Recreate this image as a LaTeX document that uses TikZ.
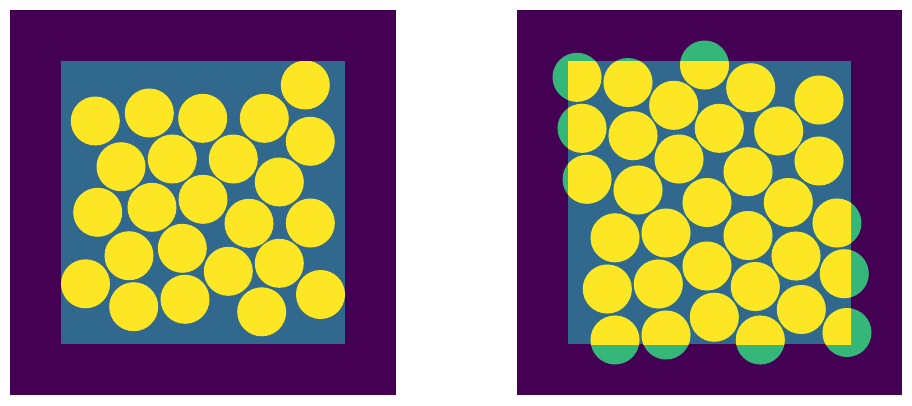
\documentclass[tikz,border=0pt]{standalone}
\definecolor{bgpurple}{HTML}{440154}
\definecolor{boxteal}{HTML}{31688E}
\definecolor{diskgreen}{HTML}{35B779}
\definecolor{diskyellow}{HTML}{FDE725}
\begin{document}
\begin{tikzpicture}[x=1pt, y=-1pt,
  panel/.style={fill=bgpurple},
  box/.style={fill=boxteal},
  inside/.style={fill=diskyellow},
  outside/.style={fill=diskgreen}]
  \useasboundingbox (0,0) rectangle (912,405);

  % left panel: disks kept inside the box
  \coordinate (L1) at (10,10);
  \coordinate (L2) at (396,395);
  \coordinate (LB1) at (61,61);
  \coordinate (LB2) at (345,344);
  \fill[panel] (L1) rectangle (L2);
  \fill[box] (LB1) rectangle (LB2);
  \begin{scope}
    \clip (LB1) rectangle (LB2);
    \foreach \cx/\cy in {305.3/85.0, 95.3/121.0, 149.3/113.0, 202.7/118.3,
        264.3/118.3, 310.3/141.3, 121.0/166.7, 172.3/159.0, 233.3/159.0,
        279.3/182.0, 97.7/212.3, 152.0/207.3, 203.0/199.3, 249.0/223.3,
        310.3/223.0, 129.0/255.7, 182.3/248.3, 228.3/271.3, 279.3/263.3,
        85.5/283.8, 133.7/306.7, 185.0/299.3, 261.7/311.8, 320.5/294.5}
      \fill[inside] (\cx,\cy) circle (24.5pt);
  \end{scope}

  % right panel: disks may cross the box edge
  \coordinate (R1) at (517,10);
  \coordinate (R2) at (902,395);
  \coordinate (RB1) at (568,61);
  \coordinate (RB2) at (851,344);
  \fill[panel] (R1) rectangle (R2);
  \fill[box] (RB1) rectangle (RB2);
  \def\rightdisks{577.0/77.3, 628.0/82.5, 704.5/65.0, 750.7/87.7,
      819.0/100.0, 673.7/105.3, 582.0/128.3, 633.0/135.7, 719.3/128.3,
      778.7/131.0, 679.0/159.0, 748.0/171.7, 819.0/161.0, 587.0/179.3,
      638.0/190.0, 707.0/202.5, 788.3/202.5, 837.0/223.0, 615.0/237.8,
      666.0/233.0, 748.0/235.5, 796.0/256.0, 707.0/266.0, 844.3/273.7,
      607.3/289.0, 658.3/284.0, 755.3/286.5, 801.3/309.5, 714.3/317.2,
      615.0/340.0, 666.0/335.0, 760.3/340.0, 847.0/332.5}
  \begin{scope}
    \clip (R1) rectangle (R2);
    \foreach \cx/\cy in \rightdisks
      \fill[outside] (\cx,\cy) circle (24.5pt);
  \end{scope}
  \begin{scope}
    \clip (RB1) rectangle (RB2);
    \foreach \cx/\cy in \rightdisks
      \fill[inside] (\cx,\cy) circle (24.5pt);
  \end{scope}
\end{tikzpicture}
\end{document}
